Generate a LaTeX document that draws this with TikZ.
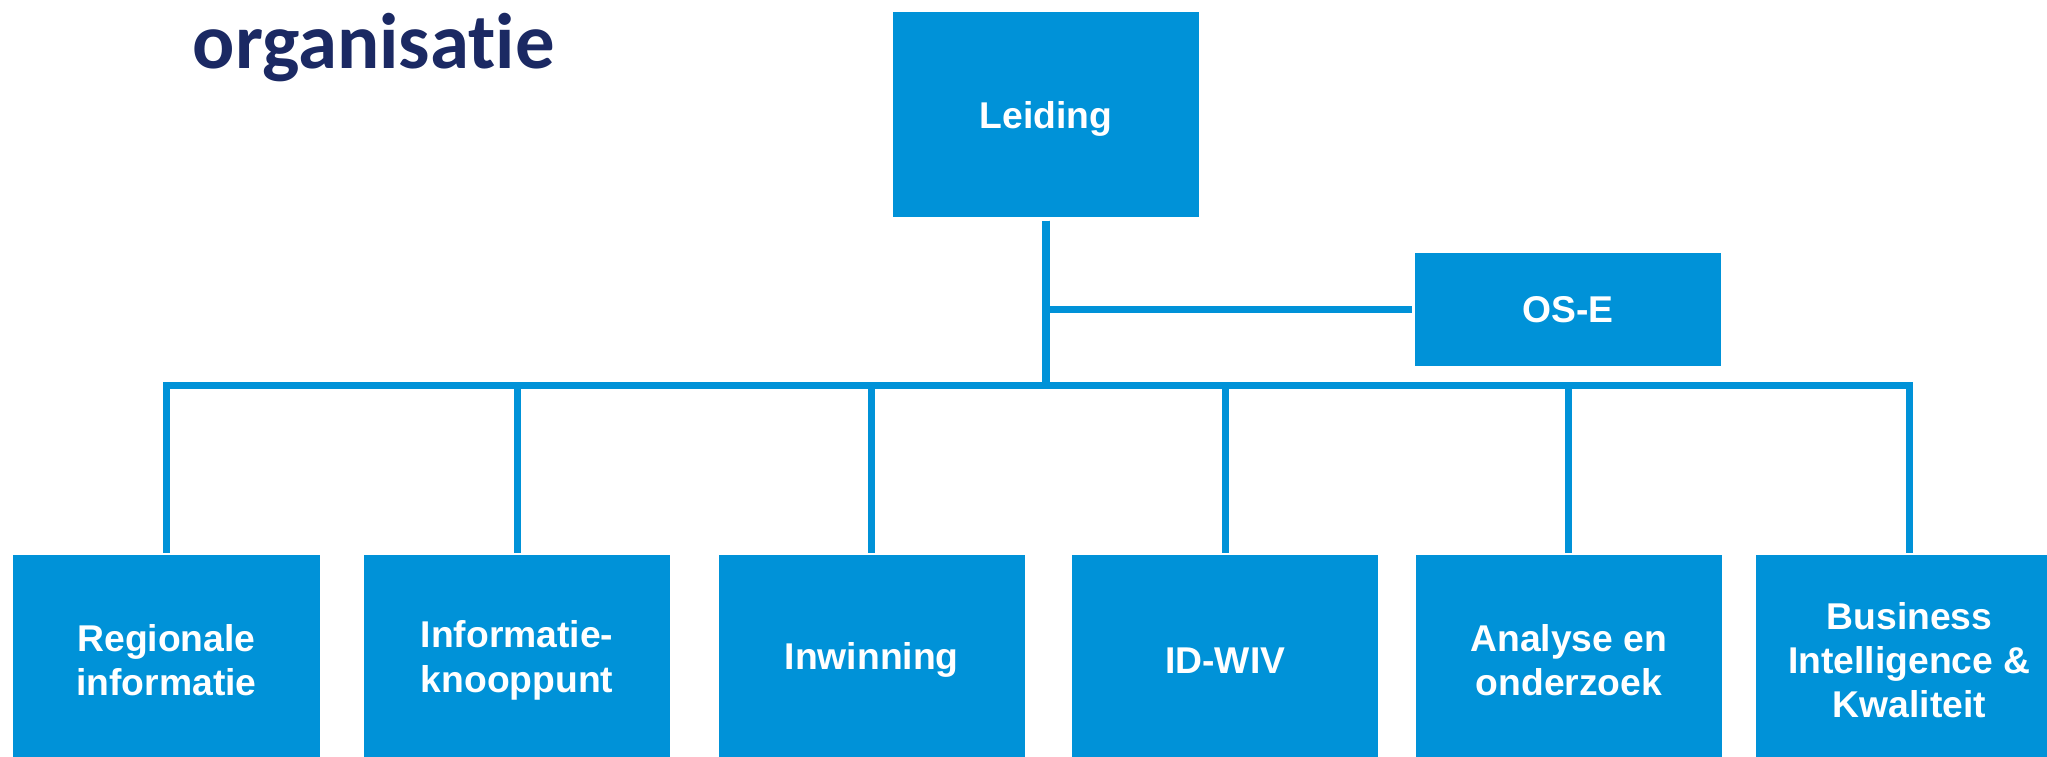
\documentclass[tikz,border=0pt]{standalone}
\usepackage{fontspec}
\setmainfont{Liberation Sans}
\newfontfamily\titlefont[Ligatures=NoCommon]{Carlito}
\definecolor{orgblue}{RGB}{0,146,216}
\definecolor{titlenavy}{RGB}{27,41,99}

\begin{document}
\begin{tikzpicture}[x=0.01cm,y=0.01cm,
  unit/.style={fill=orgblue,text=white,inner sep=0pt,align=center,minimum width=3.06cm,font=\bfseries\fontsize{10.6}{12.6}\selectfont},
  orgline/.style={draw=orgblue,line width=2pt},
  level distance=5.455cm,level 1/.style={sibling distance=3.484cm},
  every child node/.style={unit,minimum height=2.1cm},
  edge from parent/.style={orgline},
  edge from parent path={([yshift=-0.03cm]\tikzparentnode.south) |- ([yshift=1.685cm]\tikzchildnode.north) -- ([yshift=0.02cm]\tikzchildnode.north)}]
\useasboundingbox (0,0) rectangle (2047,-756);
\node[anchor=base west,inner sep=0pt,text=titlenavy,font=\titlefont\bfseries\fontsize{22.4}{26}\selectfont] (title) at (192,-68) {organisatie};
\node[unit,minimum height=2.05cm,text depth=0pt] (leiding) at (1046,-114.5) {Leiding}
    child[xshift=-0.08cm]{node (regio) {Regionale\\informatie}}
    child[xshift=-0.06cm]{node (knooppunt) {Informatie-\\knooppunt}}
    child{node (inwinning) {Inwinning}}
    child[xshift=0.05cm]{node (idwiv) {ID-WIV}}
    child{node (analyse) {Analyse en\\onderzoek}}
    child[xshift=-0.08cm]{node (bi) {Business\\Intelligence \&\\Kwaliteit}}
;
\node[unit,minimum height=1.12cm,text depth=0pt] (ose) at (1568,-309.5) {OS-E};
\draw[orgline] (ose.west -| leiding.south) -- ([xshift=-0.02cm]ose.west);
\end{tikzpicture}
\end{document}
